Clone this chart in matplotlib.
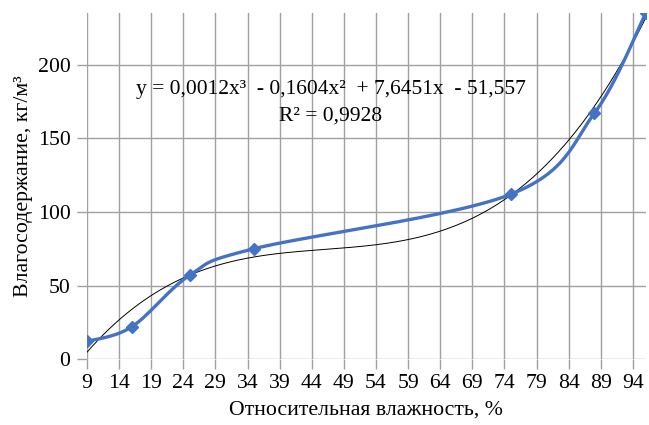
import numpy as np
import matplotlib.pyplot as plt

# relative humidity, % and moisture content, kg/m3
humidity = [9, 16, 25, 35, 75, 88, 96]
moisture = [12, 22, 57, 75, 112, 167, 235]
x_ticks = list(range(9, 95, 5))
y_ticks = [0, 50, 100, 150, 200]

equation = "y = 0,0012x³  - 0,1604x²  + 7,6451x  - 51,557"
r2_text = "R² = 0,9928"

plt.rcParams["font.family"] = ["Liberation Serif", "DejaVu Serif"]


def smooth_curve(xs, ys, n=30):
    # Bezier smoothing similar to spreadsheet "smoothed line"
    pts = np.column_stack([xs, ys]).astype(float)
    out = []
    for i in range(len(pts) - 1):
        p0 = pts[i - 1] if i > 0 else pts[i]
        p1, p2 = pts[i], pts[i + 1]
        p3 = pts[i + 2] if i + 2 < len(pts) else pts[i + 1]
        c1 = p1 + (p2 - p0) / 6
        c2 = p2 - (p3 - p1) / 6
        t = np.linspace(0, 1, n)[:, None]
        seg = ((1 - t) ** 3) * p1 + 3 * ((1 - t) ** 2) * t * c1 \
            + 3 * (1 - t) * t ** 2 * c2 + t ** 3 * p2
        out.append(seg if i == 0 else seg[1:])
    seg = np.vstack(out)
    return seg[:, 0], seg[:, 1]


fig = plt.figure(figsize=(6.49, 4.25), dpi=100)
ax = fig.add_axes([0.134, 0.155, 0.861, 0.814])

# cubic trendline from the data
coef = np.polyfit(humidity, moisture, 3)
tx = np.linspace(min(humidity), max(humidity), 200)
ax.plot(tx, np.polyval(coef, tx), color="black", lw=0.7, zorder=3)

sx, sy = smooth_curve(humidity, moisture)
ax.plot(sx, sy, color="#4472C4", lw=2.4, zorder=4)
ax.plot(humidity, moisture, ls="none", marker="D", ms=6.5,
        color="#4472C4", zorder=5)

ax.set_xlim(9, 96)
ax.set_ylim(0, 235)
ax.set_xticks(x_ticks)
ax.set_yticks(y_ticks)
ax.grid(True, color="#a0a0a0", lw=1)
ax.set_axisbelow(True)
for s in ax.spines.values():
    s.set_visible(False)
ax.tick_params(axis="both", colors="#a0a0a0", length=7, width=1,
               labelcolor="black", labelsize=15.7, pad=4)
ax.tick_params(axis="y", pad=5)

ax.set_xlabel("Относительная влажность, %", fontsize=15.7, labelpad=5)
ax.set_ylabel("Влагосодержание, кг/м³", fontsize=15.7, labelpad=3)

ax.text(47, 183, equation, fontsize=15.5, ha="center", va="center")
ax.text(47, 165, r2_text, fontsize=15.5, ha="center", va="center")

fig.savefig("out.png", dpi=100)
